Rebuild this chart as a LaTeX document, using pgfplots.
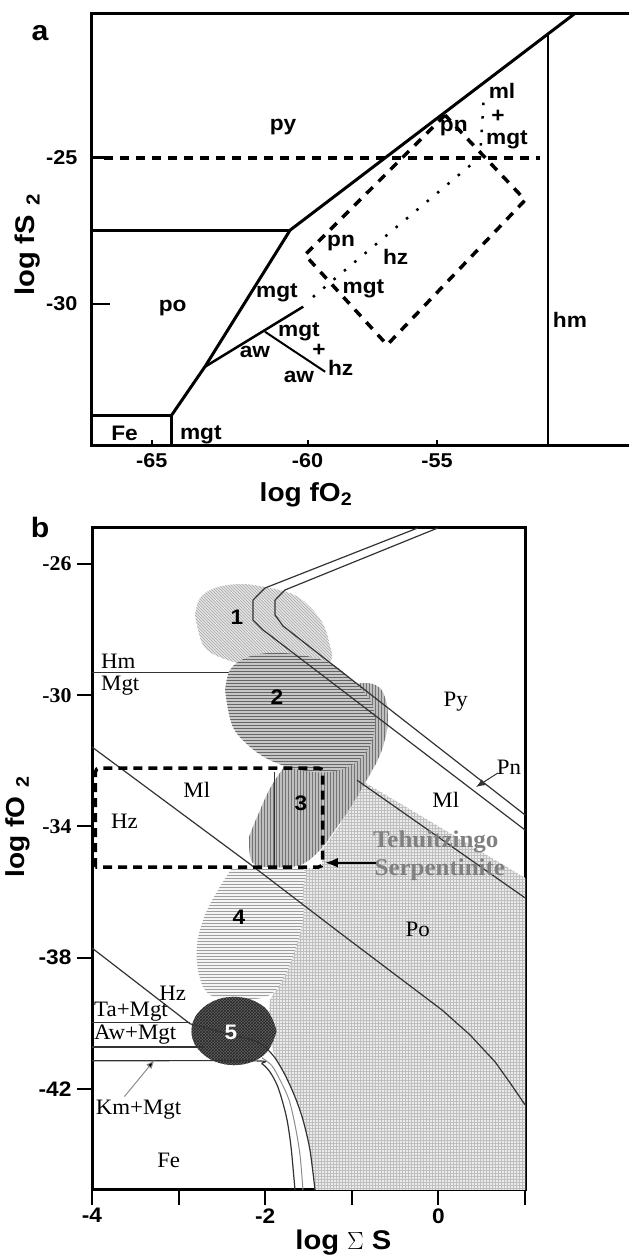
\documentclass[border=0pt]{standalone}
\usepackage{fontspec}
\setmainfont{Liberation Serif}
\newfontfamily\sansf{Liberation Sans}[FakeStretch=1.08]
\newfontfamily\seriff{Liberation Serif}[FakeStretch=1.04]
\usepackage{pgfplots}
\pgfplotsset{compat=1.18}
\usetikzlibrary{patterns,arrows.meta}
\newcommand\fs[1]{\fontsize{#1}{#1}\selectfont}
\definecolor{tgray}{gray}{0.5}
\definecolor{ln}{gray}{0.2}
\begin{document}
\begin{tikzpicture}[x=1pt,y=1pt]
\path[use as bounding box] (0,0) rectangle (629,1257);

% ---------------- Panel a ----------------
\begin{axis}[
  at={(91pt,811pt)}, anchor=south west,
  scale only axis, width=538pt, height=432pt,
  xmin=-67.13, xmax=-48.27, ymin=-34.86, ymax=-20.07,
  axis line style={draw=none},
  xtick={-65,-59.54,-55}, xticklabels={-65,-60,-55},
  ytick={-30,-25}, yticklabels={-30,-25},
  tick align=inside, xtick pos=left, ytick pos=left,
  major tick length=6pt,
  xtick style={line width=2pt, black},
  ytick style={draw=none},
  tick label style={font=\sansf\bfseries\fs{20}},
  xticklabel style={yshift=-4pt},
  yticklabel style={xshift=-10pt},
  clip=false,
]
% frame
\draw[line width=3pt, line join=miter] (rel axis cs:1,1) -- (rel axis cs:0,1) -- (rel axis cs:0,0) -- (rel axis cs:1,0);
% main boundary
\addplot[line width=3pt, line join=round, mark=none] coordinates {(-64.30,-33.80) (-63.14,-32.15) (-60.15,-27.47) (-50.19,-20.07)};
\addplot[line width=3pt, mark=none] coordinates {(-67.13,-27.47) (-60.15,-27.47)};
\addplot[line width=3pt, mark=none] coordinates {(-67.13,-33.80) (-64.30,-33.80) (-64.30,-34.86)};
\addplot[line width=2.5pt, mark=none] coordinates {(-63.14,-32.15) (-59.69,-30.09)};
\addplot[line width=2pt, mark=none] coordinates {(-61.03,-30.95) (-58.92,-32.32)};
\addplot[line width=2pt, mark=none] coordinates {(-51.10,-20.75) (-51.10,-34.86)};
% y ticks
\addplot[line width=2.5pt, mark=none] coordinates {(-67.13,-30) (-66.46,-30)};
\addplot[line width=3pt, mark=none] coordinates {(-67.13,-25) (-66.68,-25)};
% dashed lines
\addplot[line width=3.5pt, dash pattern=on 9pt off 7pt, mark=none] coordinates {(-66.68,-25) (-51.39,-25)};
\addplot[line width=3.5pt, dash pattern=on 9pt off 8pt, mark=none] coordinates {(-54.72,-23.53) (-59.63,-28.32) (-56.75,-31.40) (-51.91,-26.44) (-54.72,-23.53)};
% dotted
\addplot[line width=2.5pt, dash pattern=on 2.5pt off 11pt, mark=none] coordinates {(-59.35,-29.76) (-53.49,-24.97) (-53.36,-22.91)};
\end{axis}

\begin{scope}[every node/.style={font=\sansf\bfseries\fs{21}, inner sep=0pt}]
\node at (283,1130) {py};
\node at (172.7,949) {po};
\node at (277,964) {mgt};
\node at (341,1014) {pn};
\node at (395.6,1000) {hz};
\node at (363.5,968) {mgt};
\node at (299,925) {mgt};
\node at (319,907) {+};
\node at (255,905) {aw};
\node at (299,880) {aw};
\node at (340.6,889) {hz};
\node at (124.5,824) {Fe};
\node at (200.8,822) {mgt};
\node at (570,937) {hm};
\node at (453.8,1129) {pn};
\node at (502,1166) {ml};
\node at (498,1141) {+};
\node at (507,1117) {mgt};
\node[font=\sansf\bfseries\fs{28}] at (40,1224) {a};
\node[font=\sansf\bfseries\fs{26}] at (306,762) {log fO\textsubscript{2}};
\node[font=\sansf\bfseries\fs{27}, rotate=90] at (28,1012) {log fS\,\,\textsubscript{2}};
\end{scope}

% ---------------- Panel b ----------------
\begin{axis}[
  at={(92pt,67pt)}, anchor=south west,
  scale only axis, width=433pt, height=662pt,
  xmin=-4, xmax=1, ymin=-45.09, ymax=-24.90,
  axis line style={line width=3pt},
  xtick={-4,-3,-2,-1,0,1}, xticklabels={-4,,-2,,0,},
  ytick={-42,-38,-34,-30,-26},
  yticklabels={{\sansf -42},{\sansf -38},{\seriff -34},{\seriff -30},{\seriff -26}},
  tick align=outside, xtick pos=left, ytick pos=left,
  major tick length=15pt, tick style={line width=2pt, black},
  tick label style={font=\sansf\bfseries\fs{21}},
  yticklabel style={xshift=-2pt},
  clip=false,
]
% Po field
\addplot[draw=none, preaction={fill=black!8}, pattern=grid, pattern color=black!25, mark=none] coordinates {
(-1.598,-35.27) (-1.344,-35.27) (-1.344,-34.72) (-1.136,-33.96) (-0.940,-32.52) (1.0,-35.57) (1.0,-45.09)
(-1.425,-45.09) (-1.483,-43.87) (-1.564,-42.95) (-1.656,-42.25) (-1.771,-41.58) (-1.887,-41.06)
(-1.968,-40.21) (-1.945,-39.29) (-1.771,-38.53) (-1.564,-36.85) (-1.564,-35.94)} -- cycle;
% Hm/Mgt line (under blob 2)
\addplot[ln, line width=1.2pt, mark=none] coordinates {(-4,-29.30) (-2.40,-29.30)};
% blob 1
\addplot[draw=none, smooth, tension=0.6, preaction={fill=black!10}, pattern=north west lines, pattern color=black!35, mark=none] coordinates {
(-2.811,-27.55) (-2.753,-27.04) (-2.580,-26.73) (-2.291,-26.61) (-2.002,-26.70) (-1.691,-26.91) (-1.506,-27.25)
(-1.344,-27.77) (-1.263,-28.38) (-1.252,-28.99) (-1.598,-29.17) (-2.176,-29.08) (-2.522,-28.84) (-2.718,-28.47) (-2.811,-27.55)};
% blob 4
\addplot[draw=none, smooth, tension=0.6, preaction={fill=black!4}, pattern=horizontal lines, pattern color=black!38, mark=none] coordinates {
(-2.383,-35.27) (-1.598,-35.27) (-1.564,-35.94) (-1.564,-36.85) (-1.656,-37.77) (-1.771,-38.53) (-1.945,-39.14)
(-2.291,-39.29) (-2.637,-39.14) (-2.764,-38.53) (-2.788,-37.62) (-2.695,-36.70) (-2.545,-35.94) (-2.383,-35.27)};
% blob 3
\addplot[draw=none, smooth, tension=0.6, preaction={fill=black!25}, pattern=vertical lines, pattern color=black!55, mark=none] coordinates {
(-2.187,-34.32) (-2.083,-33.65) (-1.887,-32.59) (-1.483,-31.21) (-1.021,-29.84) (-0.848,-29.63) (-0.674,-29.78)
(-0.594,-30.30) (-0.594,-31.06) (-0.674,-31.82) (-0.813,-32.52) (-0.998,-33.35) (-1.194,-34.11) (-1.367,-34.72)
(-1.598,-35.18) (-1.945,-35.24) (-2.152,-35.09) (-2.187,-34.32)};
% blob 2
\addplot[draw=none, smooth, tension=0.6, preaction={fill=black!22}, pattern=horizontal lines, pattern color=black!60, mark=none] coordinates {
(-2.464,-29.84) (-2.406,-29.23) (-2.233,-28.87) (-1.945,-28.71) (-1.598,-28.77) (-1.252,-29.02) (-0.998,-29.54)
(-0.790,-30.15) (-0.732,-30.82) (-0.790,-31.52) (-0.963,-32.07) (-1.252,-32.34) (-1.598,-32.28) (-1.945,-31.98)
(-2.199,-31.52) (-2.383,-30.91) (-2.464,-29.84)};
% blob 5
\addplot[draw=none, smooth, tension=0.7, preaction={fill=black!62}, pattern=crosshatch, pattern color=black!85, mark=none] coordinates {
(-1.869,-40.24) (-2.013,-39.51) (-2.360,-39.20) (-2.707,-39.51) (-2.851,-40.24) (-2.707,-40.97) (-2.360,-41.28) (-2.013,-40.97) (-1.869,-40.24)};
% line inside blob 3
\addplot[ln, line width=1pt, mark=none] coordinates {(-1.887,-32.34) (-1.887,-35.24)};
% Pn double line
\addplot[ln, line width=1.2pt, mark=none] coordinates {(-0.239,-24.90) (-2.002,-26.73) (-2.141,-27.10) (-2.141,-27.71) (-2.025,-28.01) (1.0,-34.11)};
\addplot[ln, line width=1.2pt, mark=none] coordinates {(-0.007,-24.90) (-1.771,-26.79) (-1.887,-27.10) (-1.887,-27.55) (-1.794,-27.89) (1.0,-33.65)};
% Ml/Po
\addplot[ln, line width=1.2pt, mark=none] coordinates {(-0.940,-32.59) (1.0,-36.18)};
% Hz/Ml - Po boundary
\addplot[ln, line width=1.2pt, mark=none] coordinates {(-4,-31.58) (-2.176,-35.15) (-1.136,-37.25) (0.042,-39.60) (0.365,-40.36) (0.654,-41.18) (0.827,-41.82) (1.0,-42.49)};
% lower Hz line and Fe curves
\addplot[ln, line width=1.2pt, mark=none] coordinates {(-4,-37.71) (-2.868,-40.02) (-2.118,-40.54)};
\addplot[ln, line width=1.2pt, mark=none, smooth, tension=0.5] coordinates {(-2.118,-40.54) (-2.002,-40.73) (-1.887,-41.06) (-1.771,-41.58) (-1.656,-42.25) (-1.564,-42.95) (-1.483,-43.87) (-1.425,-45.09)};
\addplot[black!45, line width=1pt, mark=none, smooth, tension=0.5] coordinates {(-2.037,-41.06) (-1.922,-41.30) (-1.818,-41.79) (-1.725,-42.34) (-1.656,-43.10) (-1.598,-44.02) (-1.564,-45.09)};
\addplot[ln, line width=1.2pt, mark=none] coordinates {(-4,-39.99) (-2.868,-39.99)};
\addplot[ln, line width=1.2pt, mark=none] coordinates {(-4,-40.73) (-2.695,-40.73)};
\addplot[ln, line width=1.2pt, mark=none, smooth, tension=0.5] coordinates {(-4,-41.15) (-2.141,-41.15) (-2.037,-41.24) (-1.945,-41.49) (-1.864,-41.88) (-1.806,-42.34) (-1.748,-42.95) (-1.702,-43.77) (-1.656,-45.09)};
% Tehuitzingo box
\addplot[line width=3.5pt, dash pattern=on 9pt off 6pt, rounded corners=4pt, mark=none] coordinates {(-3.96,-35.24) (-3.96,-32.22) (-1.338,-32.22) (-1.338,-35.24) (-3.96,-35.24)};
% arrows
\addplot[line width=2.5pt, -{Latex[length=13pt,width=10pt]}, mark=none] coordinates {(-0.726,-35.11) (-1.31,-35.11)};
\addplot[ln, line width=1pt, -{Latex[length=9pt,width=7pt]}, mark=none] coordinates {(0.688,-32.37) (0.434,-32.80)};
\addplot[black!45, line width=1pt, -{Latex[length=9pt,width=7pt,fill=black]}, mark=none] coordinates {(-3.625,-42.24) (-3.277,-41.12)};
\end{axis}

\begin{scope}[every node/.style={font=\seriff\fs{22}, inner sep=0pt}]
\node[anchor=west] at (101,596) {Hm};
\node[anchor=west] at (101,571) {Mgt};
\node at (455.8,555.3) {Py};
\node at (509,489.7) {Pn};
\node at (445.8,457) {Ml};
\node at (196.8,467) {Ml};
\node at (124.5,435.3) {Hz};
\node at (417.7,327.7) {Po};
\node at (172.7,263.7) {Hz};
\node[anchor=west] at (94,245.3) {Ta+Mgt};
\node[anchor=west] at (94,222) {Aw+Mgt};
\node at (138.6,147.7) {Km+Mgt};
\node at (168.7,97) {Fe};
\node[font=\seriff\bfseries\fs{24}, text=tgray] at (435.7,415.3) {Tehuitzingo};
\node[font=\seriff\bfseries\fs{24}, text=tgray] at (439.8,387) {Serpentinite};
\node[font=\sansf\bfseries\fs{21}] at (237,640) {1};
\node[font=\sansf\bfseries\fs{21}] at (277,560) {2};
\node[font=\sansf\bfseries\fs{21}] at (301,454) {3};
\node[font=\sansf\bfseries\fs{21}] at (239,340) {4};
\node[font=\sansf\bfseries\fs{21}, text=white] at (231,225) {5};
\node[font=\sansf\bfseries\fs{28}] at (40,729) {b};
\node[font=\sansf\bfseries\fs{27}] at (343.4,14) {log $\Sigma$ S};
\node[font=\sansf\bfseries\fs{26}, rotate=90] at (18,430) {log fO\,\,\textsubscript{2}};
\end{scope}
\end{tikzpicture}
\end{document}
